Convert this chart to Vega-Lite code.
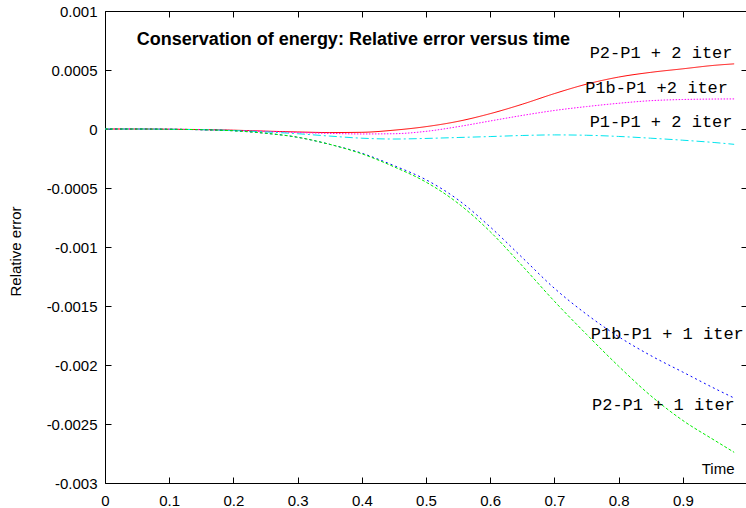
{
  "$schema": "https://vega.github.io/schema/vega-lite/v6.json",
  "width": 642,
  "height": 472,
  "autosize": {"type": "none"},
  "padding": {"left": 105, "top": 11, "right": 0, "bottom": 25},
  "background": "white",
  "config": {
    "view": {"stroke": null},
    "axis": {
      "domainColor": "black",
      "tickColor": "black",
      "labelColor": "black",
      "titleColor": "black",
      "labelFont": "Liberation Sans",
      "titleFont": "Liberation Sans",
      "labelFontSize": 15,
      "titleFontSize": 15,
      "titleFontWeight": "normal",
      "grid": false,
      "tickSize": -6,
      "domainWidth": 1,
      "tickWidth": 1
    }
  },
  "datasets": {
    "errors": [
      {"series": "P2-P1 + 2 iter", "t": 0, "err": 0},
      {"series": "P2-P1 + 2 iter", "t": 0.05, "err": 0},
      {"series": "P2-P1 + 2 iter", "t": 0.1, "err": -0.000002},
      {"series": "P2-P1 + 2 iter", "t": 0.15, "err": -0.000005},
      {"series": "P2-P1 + 2 iter", "t": 0.2, "err": -0.00001},
      {"series": "P2-P1 + 2 iter", "t": 0.25, "err": -0.000018},
      {"series": "P2-P1 + 2 iter", "t": 0.3, "err": -0.000025},
      {"series": "P2-P1 + 2 iter", "t": 0.35, "err": -0.00003},
      {"series": "P2-P1 + 2 iter", "t": 0.4, "err": -0.000028},
      {"series": "P2-P1 + 2 iter", "t": 0.45, "err": -0.00001},
      {"series": "P2-P1 + 2 iter", "t": 0.5, "err": 0.00002},
      {"series": "P2-P1 + 2 iter", "t": 0.55, "err": 0.000065},
      {"series": "P2-P1 + 2 iter", "t": 0.6, "err": 0.00013},
      {"series": "P2-P1 + 2 iter", "t": 0.65, "err": 0.00021},
      {"series": "P2-P1 + 2 iter", "t": 0.7, "err": 0.0003},
      {"series": "P2-P1 + 2 iter", "t": 0.75, "err": 0.00038},
      {"series": "P2-P1 + 2 iter", "t": 0.8, "err": 0.00044},
      {"series": "P2-P1 + 2 iter", "t": 0.85, "err": 0.00048},
      {"series": "P2-P1 + 2 iter", "t": 0.9, "err": 0.00051},
      {"series": "P2-P1 + 2 iter", "t": 0.95, "err": 0.00054},
      {"series": "P2-P1 + 2 iter", "t": 0.98, "err": 0.000552},

      {"series": "P1b-P1 +2 iter", "t": 0, "err": 0},
      {"series": "P1b-P1 +2 iter", "t": 0.05, "err": 0},
      {"series": "P1b-P1 +2 iter", "t": 0.1, "err": -0.000002},
      {"series": "P1b-P1 +2 iter", "t": 0.15, "err": -0.000006},
      {"series": "P1b-P1 +2 iter", "t": 0.2, "err": -0.000012},
      {"series": "P1b-P1 +2 iter", "t": 0.25, "err": -0.00002},
      {"series": "P1b-P1 +2 iter", "t": 0.3, "err": -0.00003},
      {"series": "P1b-P1 +2 iter", "t": 0.35, "err": -0.000037},
      {"series": "P1b-P1 +2 iter", "t": 0.4, "err": -0.000042},
      {"series": "P1b-P1 +2 iter", "t": 0.45, "err": -0.00004},
      {"series": "P1b-P1 +2 iter", "t": 0.5, "err": -0.00002},
      {"series": "P1b-P1 +2 iter", "t": 0.55, "err": 0.00002},
      {"series": "P1b-P1 +2 iter", "t": 0.6, "err": 0.000068},
      {"series": "P1b-P1 +2 iter", "t": 0.65, "err": 0.000115},
      {"series": "P1b-P1 +2 iter", "t": 0.7, "err": 0.000157},
      {"series": "P1b-P1 +2 iter", "t": 0.75, "err": 0.00019},
      {"series": "P1b-P1 +2 iter", "t": 0.8, "err": 0.000218},
      {"series": "P1b-P1 +2 iter", "t": 0.85, "err": 0.00024},
      {"series": "P1b-P1 +2 iter", "t": 0.9, "err": 0.00025},
      {"series": "P1b-P1 +2 iter", "t": 0.95, "err": 0.000254},
      {"series": "P1b-P1 +2 iter", "t": 0.98, "err": 0.000255},

      {"series": "P1-P1 + 2 iter", "t": 0, "err": 0},
      {"series": "P1-P1 + 2 iter", "t": 0.05, "err": 0},
      {"series": "P1-P1 + 2 iter", "t": 0.1, "err": -0.000002},
      {"series": "P1-P1 + 2 iter", "t": 0.15, "err": -0.000006},
      {"series": "P1-P1 + 2 iter", "t": 0.2, "err": -0.000013},
      {"series": "P1-P1 + 2 iter", "t": 0.25, "err": -0.000025},
      {"series": "P1-P1 + 2 iter", "t": 0.3, "err": -0.00004},
      {"series": "P1-P1 + 2 iter", "t": 0.35, "err": -0.00006},
      {"series": "P1-P1 + 2 iter", "t": 0.4, "err": -0.000078},
      {"series": "P1-P1 + 2 iter", "t": 0.45, "err": -0.000085},
      {"series": "P1-P1 + 2 iter", "t": 0.5, "err": -0.00008},
      {"series": "P1-P1 + 2 iter", "t": 0.55, "err": -0.000072},
      {"series": "P1-P1 + 2 iter", "t": 0.6, "err": -0.000064},
      {"series": "P1-P1 + 2 iter", "t": 0.65, "err": -0.000055},
      {"series": "P1-P1 + 2 iter", "t": 0.7, "err": -0.00005},
      {"series": "P1-P1 + 2 iter", "t": 0.75, "err": -0.000053},
      {"series": "P1-P1 + 2 iter", "t": 0.8, "err": -0.000063},
      {"series": "P1-P1 + 2 iter", "t": 0.85, "err": -0.000078},
      {"series": "P1-P1 + 2 iter", "t": 0.9, "err": -0.000095},
      {"series": "P1-P1 + 2 iter", "t": 0.95, "err": -0.000115},
      {"series": "P1-P1 + 2 iter", "t": 0.98, "err": -0.00013},

      {"series": "P1b-P1 + 1 iter", "t": 0, "err": 0},
      {"series": "P1b-P1 + 1 iter", "t": 0.05, "err": 0},
      {"series": "P1b-P1 + 1 iter", "t": 0.1, "err": -0.000002},
      {"series": "P1b-P1 + 1 iter", "t": 0.15, "err": -0.000006},
      {"series": "P1b-P1 + 1 iter", "t": 0.2, "err": -0.000015},
      {"series": "P1b-P1 + 1 iter", "t": 0.25, "err": -0.000036},
      {"series": "P1b-P1 + 1 iter", "t": 0.3, "err": -0.00007},
      {"series": "P1b-P1 + 1 iter", "t": 0.35, "err": -0.00013},
      {"series": "P1b-P1 + 1 iter", "t": 0.4, "err": -0.000205},
      {"series": "P1b-P1 + 1 iter", "t": 0.45, "err": -0.00031},
      {"series": "P1b-P1 + 1 iter", "t": 0.5, "err": -0.00043},
      {"series": "P1b-P1 + 1 iter", "t": 0.55, "err": -0.0006},
      {"series": "P1b-P1 + 1 iter", "t": 0.6, "err": -0.00083},
      {"series": "P1b-P1 + 1 iter", "t": 0.65, "err": -0.00109},
      {"series": "P1b-P1 + 1 iter", "t": 0.7, "err": -0.00135},
      {"series": "P1b-P1 + 1 iter", "t": 0.75, "err": -0.00157},
      {"series": "P1b-P1 + 1 iter", "t": 0.8, "err": -0.00176},
      {"series": "P1b-P1 + 1 iter", "t": 0.85, "err": -0.00192},
      {"series": "P1b-P1 + 1 iter", "t": 0.9, "err": -0.00206},
      {"series": "P1b-P1 + 1 iter", "t": 0.95, "err": -0.0022},
      {"series": "P1b-P1 + 1 iter", "t": 0.98, "err": -0.00228},

      {"series": "P2-P1 + 1 iter", "t": 0, "err": 0},
      {"series": "P2-P1 + 1 iter", "t": 0.05, "err": 0},
      {"series": "P2-P1 + 1 iter", "t": 0.1, "err": -0.000002},
      {"series": "P2-P1 + 1 iter", "t": 0.15, "err": -0.000006},
      {"series": "P2-P1 + 1 iter", "t": 0.2, "err": -0.000015},
      {"series": "P2-P1 + 1 iter", "t": 0.25, "err": -0.000036},
      {"series": "P2-P1 + 1 iter", "t": 0.3, "err": -0.00007},
      {"series": "P2-P1 + 1 iter", "t": 0.35, "err": -0.00013},
      {"series": "P2-P1 + 1 iter", "t": 0.4, "err": -0.00021},
      {"series": "P2-P1 + 1 iter", "t": 0.45, "err": -0.00032},
      {"series": "P2-P1 + 1 iter", "t": 0.5, "err": -0.00045},
      {"series": "P2-P1 + 1 iter", "t": 0.55, "err": -0.00063},
      {"series": "P2-P1 + 1 iter", "t": 0.6, "err": -0.00087},
      {"series": "P2-P1 + 1 iter", "t": 0.65, "err": -0.00116},
      {"series": "P2-P1 + 1 iter", "t": 0.7, "err": -0.00146},
      {"series": "P2-P1 + 1 iter", "t": 0.75, "err": -0.00174},
      {"series": "P2-P1 + 1 iter", "t": 0.8, "err": -0.00201},
      {"series": "P2-P1 + 1 iter", "t": 0.85, "err": -0.00226},
      {"series": "P2-P1 + 1 iter", "t": 0.9, "err": -0.00247},
      {"series": "P2-P1 + 1 iter", "t": 0.95, "err": -0.00264},
      {"series": "P2-P1 + 1 iter", "t": 0.98, "err": -0.00274}
    ],
    "curveLabels": [
      {"label": "P2-P1 + 2 iter", "t": 0.9774, "v": 0.000644},
      {"label": "P1b-P1 +2 iter", "t": 0.9704, "v": 0.000345},
      {"label": "P1-P1 + 2 iter", "t": 0.9774, "v": 0.000063},
      {"label": "P1b-P1 + 1 iter", "t": 0.995, "v": -0.001735},
      {"label": "P2-P1 + 1 iter", "t": 0.981, "v": -0.002336}
    ],
    "heading": [
      {"label": "Conservation of energy: Relative error versus time", "t": 0.0496, "v": 0.000754}
    ]
  },
  "layer": [
    {
      "data": {"name": "errors"},
      "mark": {"type": "line", "strokeWidth": 1, "interpolate": "monotone"},
      "encoding": {
        "x": {
          "field": "t",
          "type": "quantitative",
          "scale": {"domain": [0, 1], "nice": false, "zero": false},
          "axis": {
            "orient": "bottom",
            "values": [0, 0.1, 0.2, 0.3, 0.4, 0.5, 0.6, 0.7, 0.8, 0.9],
            "labelExpr": "format(datum.value, '~g')",
            "labelPadding": 16,
            "labelFlush": false,
            "labelOverlap": false,
            "title": "Time",
            "titleX": 629,
            "titleY": -15,
            "titleAlign": "right",
            "titleBaseline": "middle"
          }
        },
        "y": {
          "field": "err",
          "type": "quantitative",
          "scale": {"domain": [-0.003, 0.001], "nice": false, "zero": false},
          "axis": {
            "orient": "left",
            "values": [-0.003, -0.0025, -0.002, -0.0015, -0.001, -0.0005, 0, 0.0005, 0.001],
            "labelExpr": "replace(format(datum.value, '~g'), '\u2212', '-')",
            "labelPadding": 14,
            "labelFlush": false,
            "labelOverlap": false,
            "title": "Relative error",
            "titleX": -82,
            "titleY": 240
          }
        },
        "color": {
          "field": "series",
          "type": "nominal",
          "scale": {
            "domain": ["P2-P1 + 2 iter", "P1b-P1 +2 iter", "P1-P1 + 2 iter", "P1b-P1 + 1 iter", "P2-P1 + 1 iter"],
            "range": ["#ff0000", "#ff00ff", "#00e5ee", "#0000ff", "#00ee00"]
          },
          "legend": null
        },
        "strokeDash": {
          "field": "series",
          "type": "nominal",
          "scale": {
            "domain": ["P2-P1 + 2 iter", "P1b-P1 +2 iter", "P1-P1 + 2 iter", "P1b-P1 + 1 iter", "P2-P1 + 1 iter"],
            "range": [[1, 0], [1.5, 1.5], [8, 3, 2, 3], [2, 3], [3, 2]]
          },
          "legend": null
        }
      }
    },
    {
      "data": {"name": "curveLabels"},
      "mark": {"type": "text", "align": "right", "baseline": "middle", "font": "Courier New, Liberation Mono, monospace", "fontSize": 17, "color": "black"},
      "encoding": {
        "x": {
          "field": "t",
          "type": "quantitative",
          "axis": {"orient": "top", "labels": false, "title": null, "values": [0, 0.1, 0.2, 0.3, 0.4, 0.5, 0.6, 0.7, 0.8, 0.9, 1]}
        },
        "y": {
          "field": "v",
          "type": "quantitative",
          "axis": {"orient": "right", "labels": false, "title": null, "values": [-0.003, -0.0025, -0.002, -0.0015, -0.001, -0.0005, 0, 0.0005, 0.001]}
        },
        "text": {"field": "label"}
      }
    },
    {
      "data": {"name": "heading"},
      "mark": {"type": "text", "align": "left", "baseline": "middle", "font": "Liberation Sans", "fontWeight": "bold", "fontSize": 18, "color": "black"},
      "encoding": {
        "x": {"field": "t", "type": "quantitative", "axis": null},
        "y": {"field": "v", "type": "quantitative", "axis": null},
        "text": {"field": "label"}
      }
    }
  ],
  "resolve": {"axis": {"x": "independent", "y": "independent"}}
}
